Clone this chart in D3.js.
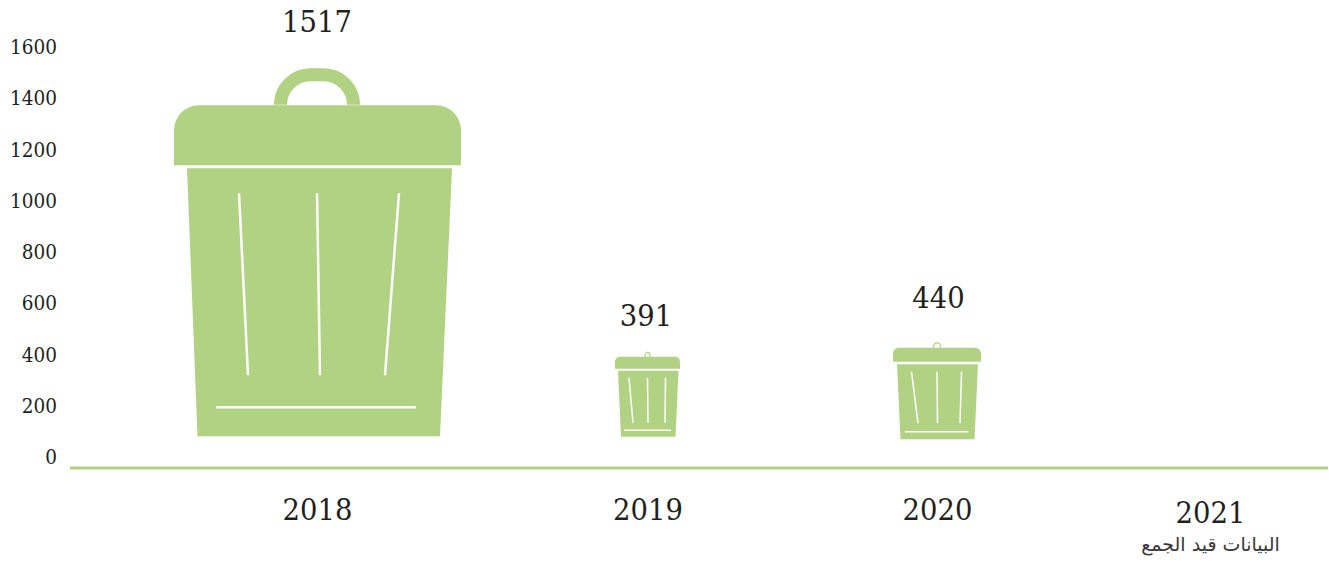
<!DOCTYPE html>
<html lang="ar">
<head>
    <meta charset="UTF-8">
    <script src="https://d3js.org/d3.v7.min.js"></script>
    <title>Waste bins per year</title>
    <style>
        html, body { margin: 0; padding: 0; background: #fff; }
        svg { display: block; }
        text { fill: #231f20; font-family: "DejaVu Serif Condensed", "DejaVu Serif", serif; }
    </style>
</head>
<body>
<div id="Area"></div>
<script>
    // chart data
    const years = ["2018", "2019", "2020", "2021"];
    const values = [1517, 391, 440];
    const yTicks = [0, 200, 400, 600, 800, 1000, 1200, 1400, 1600];
    const pendingNote = "البيانات قيد الجمع";

    const width = 1329, height = 563;
    const green = "#b0d282";

    // the bins are hand drawn in the source, so each has its own outline.
    // everything is in px, relative to the bin centre and to y(value)
    const binShapes = [
        { lid: [-143, 144, 36, 96, 25], handle: [43, -1, 34, 13, 30],
          body: [-130, 135, 99, 367, -119.5, 123],
          slots: [[-78, 124, -69, 306], [0, 124, 3, 306], [82, 124, 68, 306]],
          floor: [-101, 99, 338], sw: 2.5, labelDy: -36, labelDx: 0 },
        { lid: [-32.5, 32.5, -1, 11, 5], handle: [3, -6, -1, 1.2, 2.4],
          body: [-29.5, 31, 13, 79, -26.5, 28],
          slots: [[-18.5, 20, -14.5, 65], [0, 20, 0.5, 65], [18, 20, 17.5, 65]],
          floor: [-23.5, 23.5, 72.5], sw: 1.5, labelDy: -31, labelDx: -1.5 },
        { lid: [-44, 44, 2.5, 16.5, 6], handle: [4, -3, 2.5, 1.2, 3.4],
          body: [-40, 41, 19, 94, -36.5, 37.5],
          slots: [[-25.5, 26.5, -19, 78], [0, 26.5, 0.5, 78], [24.5, 26.5, 23, 78]],
          floor: [-32, 31.5, 86.5], sw: 1.5, labelDy: -36, labelDx: 1.5 }
    ];

    const svg = d3.select("#Area")
      .append("svg")
        .attr("width", width)
        .attr("height", height);

    // scales, years are not evenly spaced in the picture
    const x = d3.scaleOrdinal()
        .domain(years)
        .range([317, 647.5, 937, 1210]);
    const y = d3.scaleLinear()
        .domain([0, 1600])
        .range([458, 48]);

    // Y axis, labels only
    const yAxis = svg.append("g")
        .attr("transform", "translate(57,-1)")
        .call(d3.axisLeft(y).tickValues(yTicks).tickSize(0).tickPadding(0).tickFormat(d3.format("d")));
    yAxis.select(".domain").remove();
    yAxis.selectAll("text")
        .style("font-family", null)
        .attr("font-size", 20.5);

    // X axis, labels only
    const xAxis = svg.append("g")
        .attr("transform", "translate(0,498.5)")
        .call(d3.axisBottom(x).tickSize(0).tickPadding(0));
    xAxis.select(".domain").remove();
    xAxis.selectAll("text")
        .style("font-family", null)
        .attr("font-size", 30.5);
    xAxis.selectAll(".tick")
        .filter(d => d === "2021")
        .select("text")
        .attr("y", 3);

    // baseline
    svg.append("line")
        .attr("x1", 70)
        .attr("x2", 1328)
        .attr("y1", 468)
        .attr("y2", 468)
        .attr("stroke", green)
        .attr("stroke-width", 3);

    svg.append("text")
        .attr("x", 1210.5)
        .attr("y", 551)
        .attr("text-anchor", "middle")
        .attr("direction", "rtl")
        .style("font-family", "'DejaVu Sans', sans-serif")
        .style("fill", "#3a3637")
        .attr("font-size", 19)
        .text(pendingNote);

    // bins
    const bins = svg.selectAll(".bin")
        .data(values)
        .enter()
        .append("g")
          .attr("class", "bin")
          .attr("transform", (d, i) => "translate(" + x(years[i]) + "," + y(d) + ")");

    bins.append("path")
        .attr("fill", "none")
        .attr("stroke", green)
        .attr("stroke-width", (d, i) => binShapes[i].handle[3])
        .attr("d", (d, i) => {
            const [w, top, bot, sw, r] = binShapes[i].handle;
            const t = top + sw / 2, o = w - sw / 2;
            return "M" + (-o) + "," + bot + "V" + (t + r)
                + "A" + r + "," + r + " 0 0 1 " + (-o + r) + "," + t
                + "H" + (o - r)
                + "A" + r + "," + r + " 0 0 1 " + o + "," + (t + r)
                + "V" + bot;
        });

    bins.append("path")
        .attr("fill", green)
        .attr("d", (d, i) => {
            const [l, r, t, b, c] = binShapes[i].lid;
            return "M" + l + "," + b + "V" + (t + c)
                + "A" + c + "," + c + " 0 0 1 " + (l + c) + "," + t
                + "H" + (r - c)
                + "A" + c + "," + c + " 0 0 1 " + r + "," + (t + c)
                + "V" + b + "Z";
        });

    bins.append("path")
        .attr("fill", green)
        .attr("d", (d, i) => {
            const [l, r, t, b, bl, br] = binShapes[i].body;
            return "M" + l + "," + t + "L" + r + "," + t + "L" + br + "," + b + "L" + bl + "," + b + "Z";
        });

    bins.each(function (d, i) {
        const shape = binShapes[i];
        const g = d3.select(this);
        g.selectAll(".slot")
            .data(shape.slots)
            .enter()
            .append("line")
              .attr("class", "slot")
              .attr("x1", s => s[0])
              .attr("y1", s => s[1])
              .attr("x2", s => s[2])
              .attr("y2", s => s[3])
              .attr("stroke", "#fff")
              .attr("stroke-width", shape.sw);
        g.append("line")
            .attr("x1", shape.floor[0])
            .attr("x2", shape.floor[1])
            .attr("y1", shape.floor[2])
            .attr("y2", shape.floor[2])
            .attr("stroke", "#fff")
            .attr("stroke-width", shape.sw);
    });

    // value labels
    bins.append("text")
        .attr("text-anchor", "middle")
        .attr("x", (d, i) => binShapes[i].labelDx)
        .attr("y", (d, i) => binShapes[i].labelDy - 1)
        .attr("font-size", 30.5)
        .text(d => d);
</script>
</body>
</html>
